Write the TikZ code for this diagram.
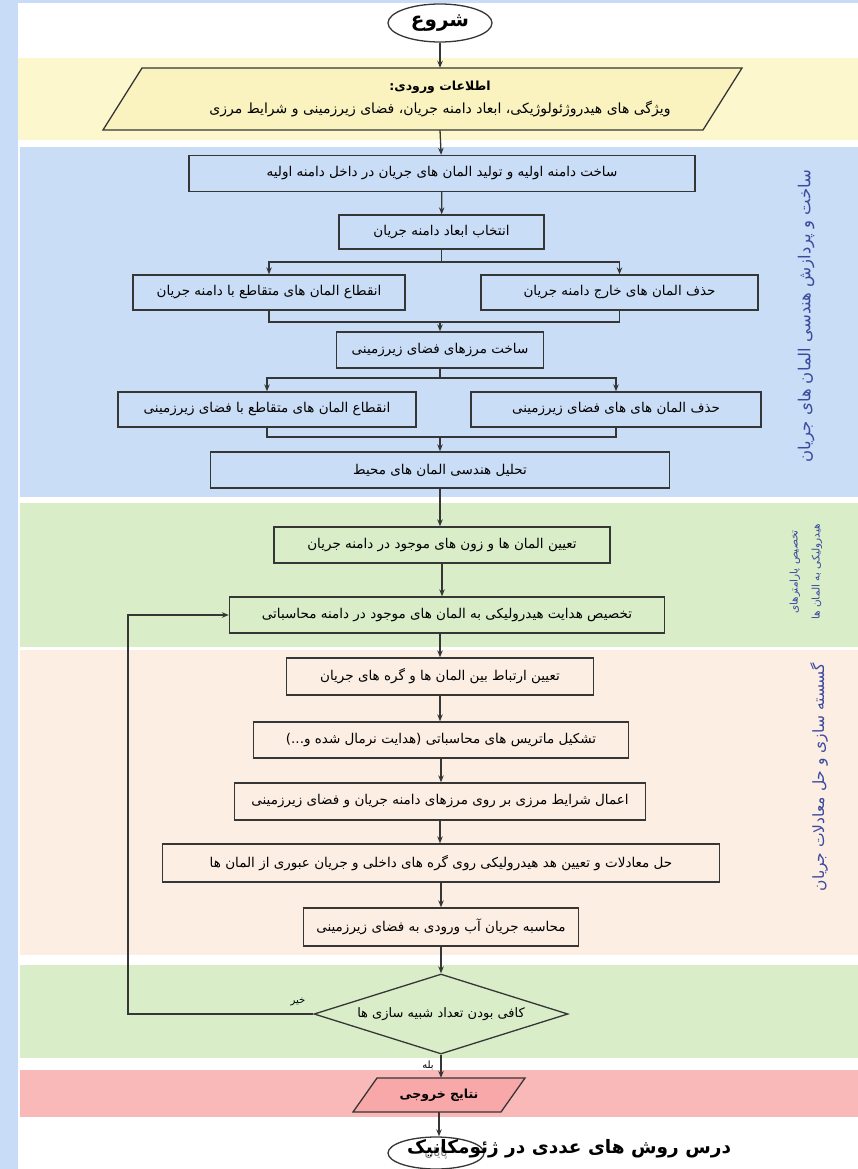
\documentclass[tikz,border=0pt]{standalone}
\usepackage{fontspec}
\usetikzlibrary{shapes.geometric,arrows.meta}
\TeXXeTstate=1
\newfontfamily\fa[Script=Arabic]{DejaVu Sans}
\newcommand{\rtl}[1]{\beginR #1\endR}

\definecolor{pagebg}{HTML}{C8DCF8}
\definecolor{bandyellow}{HTML}{FCF7CC}
\definecolor{parafill}{HTML}{FAF3C0}
\definecolor{bandblue}{HTML}{CADDF7}
\definecolor{bandgreen}{HTML}{D9EDC8}
\definecolor{bandpeach}{HTML}{FDEEE4}
\definecolor{bandred}{HTML}{FAB9B9}
\definecolor{outfill}{HTML}{F8A8A8}
\definecolor{boxline}{HTML}{363636}
\definecolor{labelblue}{HTML}{3A4A9E}

\tikzset{
  box/.style={draw=boxline, line width=1.3pt, minimum height=36, inner sep=2pt,
              font=\fa\fontsize{13.5}{15}\selectfont},
  oval/.style={draw=boxline, line width=1.3pt, ellipse, inner sep=0pt,
               font=\fa\bfseries\fontsize{20}{22}\selectfont},
  decision/.style={draw=boxline, line width=1.3pt, diamond, aspect=3.6, inner sep=0pt,
                   minimum width=254, minimum height=80, font=\fa\fontsize{13}{15}\selectfont},
  para/.style={draw=boxline, line width=1.3pt},
  flow/.style={draw=boxline, line width=1.3pt, -{Stealth[length=7pt,width=5.5pt]}},
  link/.style={draw=boxline, line width=1.3pt},
  sidelabel/.style={rotate=90, text=labelblue, align=center},
  small/.style={font=\fa\fontsize{10}{12}\selectfont},
}

\begin{document}
\begin{tikzpicture}[x=1pt,y=-1pt]
\useasboundingbox (0,0) rectangle (858,1169);

% page and coloured bands
\fill[pagebg] (0,0) rectangle (858,1169);
\fill[white] (18,3) rectangle (858,1169);
\fill[bandyellow] (18,58) rectangle (858,140);
\fill[bandblue] (20,147) rectangle (858,497);
\fill[bandgreen] (20,503) rectangle (858,647);
\fill[bandpeach] (20,650) rectangle (858,955);
\fill[bandgreen] (20,965) rectangle (858,1058);
\fill[bandred] (20,1070) rectangle (858,1117);

% side labels of the bands
\node[sidelabel, font=\fa\fontsize{16.5}{18}\selectfont] (labgeo) at (806,316)
  {\rtl{ساخت و پردازش هندسی المان های جریان}};
\node[sidelabel, font=\fa\fontsize{10.5}{22}\selectfont] (labhyd) at (806,572)
  {\rtl{تخصیص پارامترهای}\\\rtl{هیدرولیکی به المان ها}};
\node[sidelabel, font=\fa\fontsize{15.5}{18}\selectfont] (labsol) at (819,777)
  {\rtl{گسسته سازی و حل معادلات جریان}};

% start
\node[oval, minimum width=104, minimum height=38] (start) at (440,23) {\rtl{شروع}};

% input data
\filldraw[para, fill=parafill] (103,130) -- (142,68) -- (742,68) -- (703,130) -- cycle;
\node[minimum width=500, minimum height=62, inner sep=0pt, align=center] (inp) at (440,99)
  {{\fa\bfseries\fontsize{12.5}{14}\selectfont\rtl{اطلاعات ورودی:}}\\[7pt]
   {\fa\fontsize{14}{16}\selectfont\rtl{ویژگی های هیدروژئولوژیکی، ابعاد دامنه جریان، فضای زیرزمینی و شرایط مرزی}}};

% geometry of the flow elements
\node[box, minimum width=506] (b1) at (442,173.5) {\rtl{ساخت دامنه اولیه و تولید المان های جریان در داخل دامنه اولیه}};
\node[box, minimum width=205, minimum height=34] (b2) at (441.5,232) {\rtl{انتخاب ابعاد دامنه جریان}};
\node[box, minimum width=272, minimum height=35] (b3) at (269,292.5) {\rtl{انقطاع المان های متقاطع با دامنه جریان}};
\node[box, minimum width=277, minimum height=35] (b4) at (619.5,292.5) {\rtl{حذف المان های خارج دامنه جریان}};
\node[box, minimum width=207] (b5) at (440,350) {\rtl{ساخت مرزهای فضای زیرزمینی}};
\node[box, minimum width=298, minimum height=35] (b6) at (267,409.5) {\rtl{انقطاع المان های متقاطع با فضای زیرزمینی}};
\node[box, minimum width=290, minimum height=35] (b7) at (616,409.5) {\rtl{حذف المان های های فضای زیرزمینی}};
\node[box, minimum width=459] (b8) at (440,470) {\rtl{تحلیل هندسی المان های محیط}};

% hydraulic parameters
\node[box, minimum width=336] (b9) at (442,545) {\rtl{تعیین المان ها و زون های موجود در دامنه جریان}};
\node[box, minimum width=435] (b10) at (447,615) {\rtl{تخصیص هدایت هیدرولیکی به المان های موجود در دامنه محاسباتی}};

% discretisation and solution
\node[box, minimum width=307, minimum height=37] (b11) at (440,676.5) {\rtl{تعیین ارتباط بین المان ها و گره های جریان}};
\node[box, minimum width=375] (b12) at (441,740) {\rtl{تشکیل ماتریس های محاسباتی (هدایت نرمال شده و...)}};
\node[box, minimum width=411, minimum height=37] (b13) at (440,801.5) {\rtl{اعمال شرایط مرزی بر روی مرزهای دامنه جریان و فضای زیرزمینی}};
\node[box, minimum width=557, minimum height=38] (b14) at (441,863) {\rtl{حل معادلات و تعیین هد هیدرولیکی روی گره های داخلی و جریان عبوری از المان ها}};
\node[box, minimum width=275, minimum height=38] (b15) at (441,927) {\rtl{محاسبه جریان آب ورودی به فضای زیرزمینی}};

% decision
\node[decision] (dec) at (441,1014) {\rtl{کافی بودن تعداد شبیه سازی ها}};

% output
\filldraw[para, fill=outfill] (353,1112) -- (377,1078) -- (525,1078) -- (501,1112) -- cycle;
\node[minimum width=150, minimum height=34, inner sep=0pt,
      font=\fa\bfseries\fontsize{12.5}{14}\selectfont] (out) at (439,1095) {\rtl{نتایج خروجی}};

% end
\node[draw=boxline, line width=1.3pt, ellipse, minimum width=96, minimum height=32, inner sep=1pt,
      font=\fa\fontsize{12}{14}\selectfont, text=boxline!70] (stop) at (436,1153) {\rtl{پایان}};

% connectors
\draw[flow] (start) -- (inp.north);
\draw[flow] (inp.south) -- (b1);
\draw[flow] (b1) -- (b2);
\coordinate (s1) at (441.5,262);
\draw[link] (b2) -- (s1);
\draw[flow] (s1) -| (b3);
\draw[flow] (s1) -| (b4);
\coordinate (m1) at (440,322);
\draw[link] (b3.south) |- (m1) -| (b4.south);
\draw[flow] (m1) -- (b5);
\coordinate (s2) at (440,378);
\draw[link] (b5) -- (s2);
\draw[flow] (s2) -| (b6);
\draw[flow] (s2) -| (b7);
\coordinate (m2) at (440,437);
\draw[link] (b6.south) |- (m2) -| (b7.south);
\draw[flow] (m2) -- (b8);
\draw[flow] (b8.south) -- (b8.south |- b9.north);
\draw[flow] (b9.south) -- (b9.south |- b10.north);
\draw[flow] (b10.south -| b11.north) -- (b11.north);
\draw[flow] (b11) -- (b11.south |- b12.north);
\draw[flow] (b12) -- (b12.south |- b13.north);
\draw[flow] (b13) -- (b13.south |- b14.north);
\draw[flow] (b14) -- (b14.south |- b15.north);
\draw[flow] (b15) -- (dec);
\coordinate (fb) at (128,1014);
\draw[flow] (dec.west) -- (fb) |- (b10.west);
\draw[flow] (dec.south) -- (dec.south |- out.north);
\draw[flow] (out.south) -- (out.south |- stop.north);

% branch labels
\node[small] (no) at (298,1002) {\rtl{خیر}};
\node[small] (yes) at (428,1065) {\rtl{بله}};

% course title
\node[font=\fa\bfseries\fontsize{18.5}{20}\selectfont] (title) at (569,1149) {\rtl{درس روش های عددی در ژئومکانیک}};
\end{tikzpicture}
\end{document}
